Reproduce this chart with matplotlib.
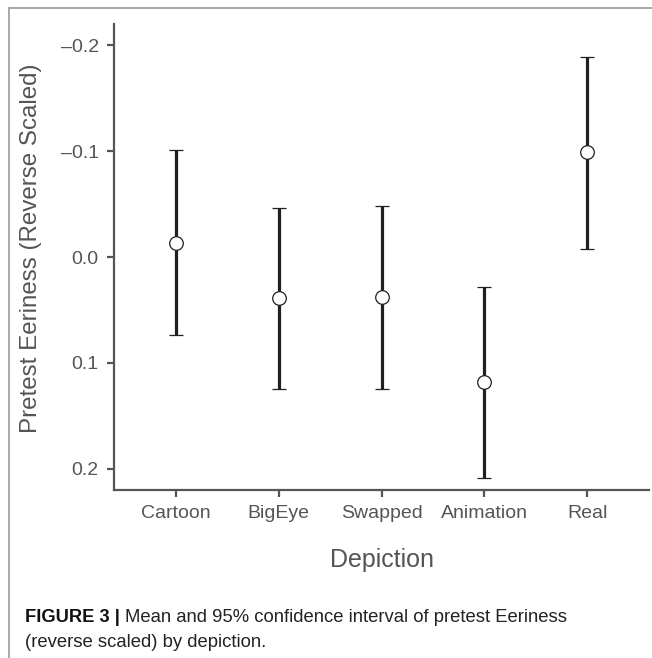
import matplotlib
matplotlib.use("Agg")
import matplotlib.pyplot as plt
from matplotlib.lines import Line2D

plt.rcParams['font.family'] = ['Liberation Sans', 'DejaVu Sans']

categories = ["Cartoon", "BigEye", "Swapped", "Animation", "Real"]
means = [-0.013, 0.039, 0.038, 0.118, -0.099]
ci_low = [-0.101, -0.046, -0.048, 0.028, -0.189]
ci_high = [0.074, 0.125, 0.125, 0.209, -0.008]
yticks = [-0.2, -0.1, 0.0, 0.1, 0.2]

W, H = 652, 658
fig = plt.figure(figsize=(W / 100, H / 100), dpi=100)

ax_left, ax_right, ax_top, ax_bottom = 114, 649, 24, 490
ax = fig.add_axes([ax_left / W, 1 - ax_bottom / H,
                   (ax_right - ax_left) / W, (ax_bottom - ax_top) / H])

xs = list(range(len(categories)))
yerr = [[m - lo for m, lo in zip(means, ci_low)],
        [hi - m for m, hi in zip(means, ci_high)]]

ax.errorbar(xs, means, yerr=yerr, fmt='o', color='#231f20', ecolor='#231f20',
            elinewidth=2.3, capsize=5.0, capthick=2.3,
            markersize=9.8, markerfacecolor='white', markeredgecolor='#231f20',
            markeredgewidth=0.9, zorder=3)

ax.set_xlim(-0.6, 4.6)
ax.set_ylim(0.22, -0.22)
ax.set_xticks(xs)
ax.set_xticklabels(categories)
ax.set_yticks(yticks)
ax.set_yticklabels([f"{v:.1f}".replace("-", "\u2013") for v in yticks])

gray = '#555555'
for s in ['top', 'right']:
    ax.spines[s].set_visible(False)
for s in ['left', 'bottom']:
    ax.spines[s].set_color(gray)
    ax.spines[s].set_linewidth(1.6)
ax.tick_params(axis='both', colors=gray, labelcolor=gray, length=5,
               width=1.6, labelsize=14, pad=6)
ax.set_facecolor('none')

# axis labels
fig.text((ax_left + ax_right) / 2 / W, 1 - 567 / H, "Depiction",
         ha='center', va='baseline', fontsize=18, color=gray)
fig.text(31 / W, 1 - 248 / H, "Pretest Eeriness (Reverse Scaled)",
         ha='center', va='center', rotation=90, fontsize=17.4, color=gray)

# frame lines
fig.add_artist(Line2D([9 / W, 1.0], [1 - 8 / H, 1 - 8 / H],
                      transform=fig.transFigure, color='#9a9a9a', lw=1.2))
fig.add_artist(Line2D([9 / W, 9 / W], [1 - 8 / H, 0.0],
                      transform=fig.transFigure, color='#9a9a9a', lw=1.2))

# caption
fig.canvas.draw()
r = fig.canvas.get_renderer()
t1 = fig.text(25 / W, 1 - 622 / H, "FIGURE 3 |", fontsize=13.2, fontweight='bold',
              color='#111111', ha='left', va='baseline')
bb = t1.get_window_extent(renderer=r)
fig.text((bb.x1 + 5) / W, 1 - 622 / H,
         "Mean and 95% confidence interval of pretest Eeriness",
         fontsize=13.3, color='#222222', ha='left', va='baseline')
fig.text(25 / W, 1 - 647 / H, "(reverse scaled) by depiction.",
         fontsize=13.3, color='#222222', ha='left', va='baseline')

fig.savefig("out.png", dpi=100)
